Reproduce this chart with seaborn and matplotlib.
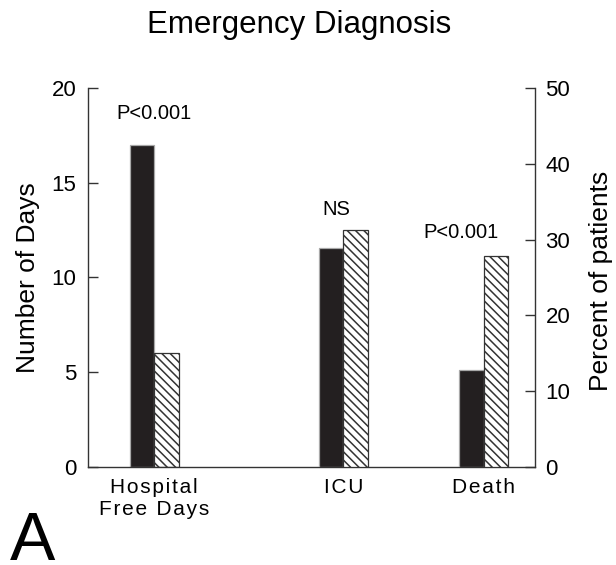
import matplotlib
matplotlib.use("Agg")
import matplotlib.pyplot as plt
import pandas as pd
import seaborn as sns

categories = ["Hospital\nFree Days", "ICU", "Death"]
groups = ["Group 1", "Group 2"]
# hospital free days, read on the left axis (days)
days_g1 = [17.0]
days_g2 = [6.0]
# ICU and death, read on the right axis (percent of patients)
pct_g1 = [28.9, 12.8]
pct_g2 = [31.3, 27.9]
p_labels = ["P<0.001", "NS", "P<0.001"]
days_ticks = [0, 5, 10, 15, 20]
pct_ticks = [0, 10, 20, 30, 40, 50]

# layout only: the three groups are not evenly spaced in the figure
group_pos = [0.0, 1.343, 2.343]
label_dx = [0.0, -0.047, -0.165]
label_y = [18.4, 33.2, 30.25]


def long_table(pos, g1, g2):
    rows = []
    for p, a, b in zip(pos, g1, g2):
        rows.append({"pos": p, "group": groups[0], "value": a})
        rows.append({"pos": p, "group": groups[1], "value": b})
    return pd.DataFrame(rows)


def spaced(txt):
    # the original tick labels are letter-spaced
    return "\n".join("\u200a".join(line) for line in txt.split("\n"))


df_days = long_table(group_pos[:1], days_g1, days_g2)
df_pct = long_table(group_pos[1:], pct_g1, pct_g2)

sns.set_theme(style="ticks")
plt.rcParams["font.family"] = ["Liberation Sans", "DejaVu Sans"]
plt.rcParams["hatch.linewidth"] = 1.1
plt.rcParams["text.color"] = "black"

fig = plt.figure(figsize=(6.16, 5.65), dpi=100)
ax = fig.add_axes([0.1424, 0.174, 0.7261, 0.6697])
ax2 = ax.twinx()

palette = {groups[0]: "#231f20", groups[1]: "white"}
edge_cols = ["#a8a8a8", "#333333"]
hatches = [None, "\\\\\\\\"]

for a, df in ((ax, df_days), (ax2, df_pct)):
    sns.barplot(data=df, x="pos", y="value", hue="group", hue_order=groups,
                palette=palette, saturation=1, native_scale=True, width=0.348,
                errorbar=None, legend=False, ax=a)
    for cont, ec, h in zip(a.containers, edge_cols, hatches):
        for bar in cont:
            bar.set_edgecolor(ec)
            bar.set_linewidth(0.9)
            bar.set_hatch(h)

ax.set_xlim(-0.473, 2.706)
ax.set_ylim(0, 20)
ax2.set_ylim(0, 50)
ax.set_yticks(days_ticks)
ax2.set_yticks(pct_ticks)
ax.set_xticks(group_pos)
ax.set_xticklabels([spaced(c) for c in categories])

spine_col = "#333333"
for a in (ax, ax2):
    a.spines["top"].set_visible(False)
    for s in a.spines.values():
        s.set_color(spine_col)
        s.set_linewidth(1.0)
ax.spines["right"].set_visible(False)
ax2.spines["left"].set_visible(False)
ax2.spines["bottom"].set_visible(False)

ax.tick_params(axis="y", direction="in", length=7.2, width=1, color=spine_col,
               labelsize=16, pad=8, labelcolor="black")
ax2.tick_params(axis="y", direction="in", length=7.2, width=1, color=spine_col,
                labelsize=16, pad=7.5, labelcolor="black")
ax.tick_params(axis="x", length=0, labelsize=15, pad=8, labelcolor="black")

ax.set_xlabel("")
ax2.set_xlabel("")
ax.set_ylabel("Number of Days", fontsize=19, va="center", color="black")
ax2.set_ylabel("Percent of patients", fontsize=19, va="center", color="black")
ax.yaxis.set_label_coords(-0.134, 0.5)
ax2.yaxis.set_label_coords(1.1475, 0.49)

# significance labels above each group
for i, txt in enumerate(p_labels):
    target = ax if i == 0 else ax2
    target.text(group_pos[i] + label_dx[i], label_y[i], txt, ha="center",
                va="baseline", fontsize=14.5, color="black")

fig.text(299 / 616, 1 - 33 / 565, "Emergency Diagnosis", ha="center",
         va="baseline", fontsize=22.5, color="black")
fig.text(10 / 616, 1 - 560 / 565, "A", ha="left", va="baseline", fontsize=49,
         color="black")

fig.savefig("out.png", dpi=100)
